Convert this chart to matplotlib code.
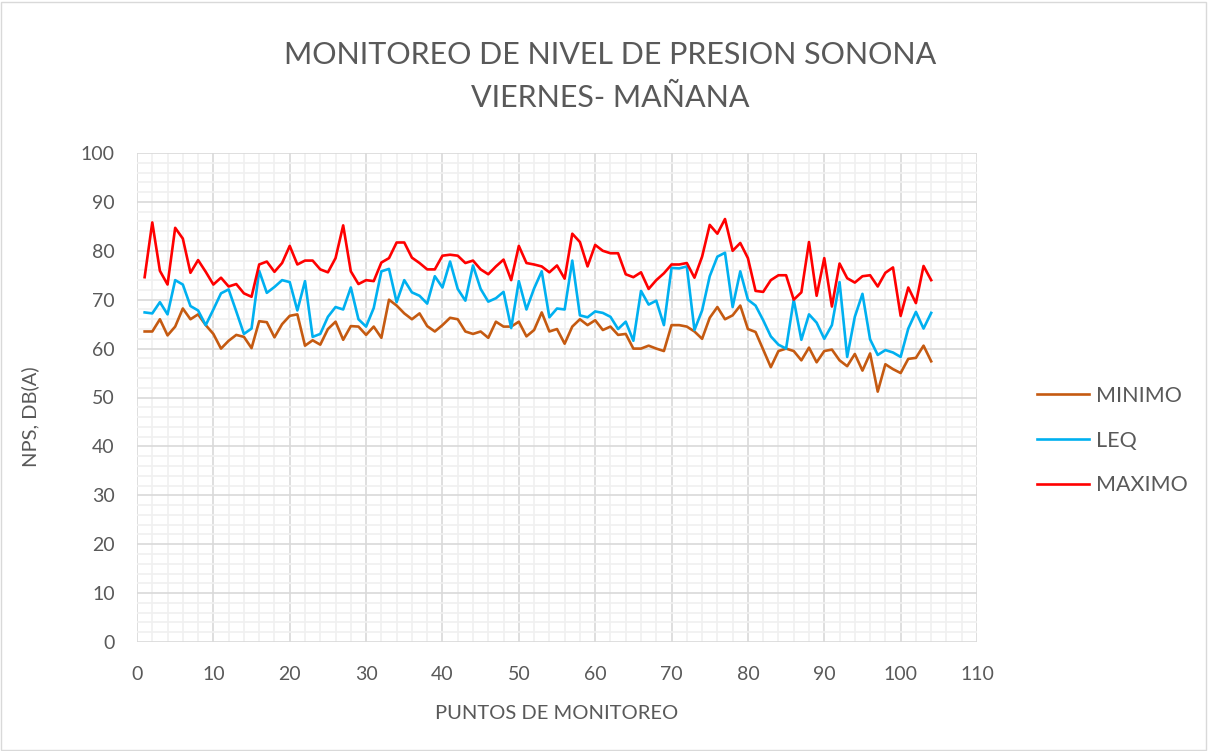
import numpy as np
import matplotlib.pyplot as plt
from matplotlib.ticker import MultipleLocator

plt.rcParams['font.family'] = ['Lato', 'DejaVu Sans']

puntos = list(range(1, 105))

minimo = [63.5, 63.5, 66, 62.7, 64.5, 68.2, 66, 67, 64.8, 63,
          60, 61.6, 62.8, 62.4, 60.1, 65.6, 65.4, 62.3, 65, 66.7,
          67, 60.6, 61.7, 60.8, 64, 65.5, 61.8, 64.6, 64.5, 62.8,
          64.5, 62.2, 70, 68.8, 67.2, 66, 67.2, 64.6, 63.5, 64.8,
          66.3, 66, 63.5, 63, 63.5, 62.2, 65.5, 64.5, 64.5, 65.5,
          62.5, 63.8, 67.4, 63.5, 64, 61, 64.5, 66, 64.8, 65.8,
          63.8, 64.5, 62.8, 63, 60, 60, 60.6, 60, 59.5, 64.8,
          64.8, 64.5, 63.5, 62, 66.3, 68.5, 66, 66.8, 68.8, 64,
          63.4, 59.8, 56.2, 59.5, 60, 59.5, 57.6, 60.2, 57.2, 59.5,
          59.8, 57.6, 56.4, 58.9, 55.5, 59, 51.2, 56.8, 55.8, 55,
          57.9, 58.1, 60.6, 57.4]

leq = [67.4, 67.2, 69.5, 67, 74, 73.1, 68.7, 67.8, 64.8, 68,
       71.3, 72.1, 67.6, 63, 64.1, 75.9, 71.4, 72.6, 74, 73.6,
       67.8, 73.8, 62.4, 63, 66.5, 68.5, 68, 72.5, 66, 64.5,
       68.3, 75.8, 76.3, 69.5, 74, 71.5, 70.8, 69.2, 74.8, 72.5,
       77.8, 72.2, 69.8, 77, 72.2, 69.6, 70.3, 71.6, 64.2, 73.8,
       68, 72.3, 75.8, 66.4, 68.2, 68, 78, 66.8, 66.4, 67.6,
       67.3, 66.5, 64, 65.5, 61.6, 71.8, 69, 69.8, 64.8, 76.5,
       76.4, 76.8, 63.8, 67.8, 74.8, 78.8, 79.6, 68.5, 75.8, 70,
       68.8, 65.8, 62.5, 60.8, 60, 70, 61.8, 67, 65.3, 62,
       64.8, 73.6, 58.3, 66.5, 71.2, 61.9, 58.7, 59.7, 59.2, 58.3,
       64.1, 67.5, 64.1, 67.3]

maximo = [74.6, 85.8, 75.9, 73.1, 84.7, 82.5, 75.5, 78.1, 75.7, 73.1,
          74.5, 72.7, 73.2, 71.3, 70.6, 77.2, 77.8, 75.7, 77.5, 81,
          77.2, 78, 78, 76.2, 75.6, 78.5, 85.2, 75.8, 73.2, 74,
          73.8, 77.6, 78.5, 81.7, 81.7, 78.6, 77.5, 76.2, 76.2, 79,
          79.2, 79, 77.5, 78, 76.2, 75.2, 76.8, 78.2, 74, 81,
          77.5, 77.2, 76.8, 75.6, 77, 74.3, 83.5, 81.8, 76.8, 81.2,
          80, 79.5, 79.5, 75.2, 74.6, 75.6, 72.2, 74, 75.4, 77.2,
          77.2, 77.5, 74.5, 78.8, 85.3, 83.5, 86.5, 80, 81.6, 78.5,
          71.8, 71.6, 74, 75, 75, 70, 71.5, 81.8, 70.8, 78.5,
          68.6, 77.4, 74.4, 73.5, 74.8, 75, 72.7, 75.5, 76.6, 66.7,
          72.5, 69.3, 76.9, 74]

series = [("MINIMO", minimo, "#C55A11"),
          ("LEQ", leq, "#00B0F0"),
          ("MAXIMO", maximo, "#FF0000")]

gris = '#595959'

fig = plt.figure(figsize=(12.08, 7.51), dpi=100)
ax = fig.add_axes([137 / 1208, 1 - 642 / 751, 840 / 1208, 489 / 751])

for name, vals, col in series:
    ax.plot(puntos, vals, color=col, lw=1.9, label=name)

ax.set_xlim(0, 110)
ax.set_ylim(0, 100)
ax.xaxis.set_major_locator(MultipleLocator(10))
ax.yaxis.set_major_locator(MultipleLocator(10))
ax.xaxis.set_minor_locator(MultipleLocator(2))
ax.yaxis.set_minor_locator(MultipleLocator(2))
ax.grid(which='minor', color='#f0f0f0', lw=1.2)
ax.grid(which='major', color='#d9d9d9', lw=1.2)
ax.set_axisbelow(True)
for s in ax.spines.values():
    s.set_visible(False)
ax.tick_params(which='both', length=0, labelsize=14, colors=gris)
ax.tick_params(axis='y', pad=16)
ax.tick_params(axis='x', pad=17)

ax.set_ylabel("NPS, DB(A)", fontsize=14.5, color=gris, va='center')
ax.yaxis.set_label_coords(-0.1274, 0.46)
ax.set_xlabel("PUNTOS DE MONITOREO", fontsize=14.5, color=gris, va='center')
ax.xaxis.set_label_coords(0.5, -0.1452)

fig.text(0.505, 1 - 76.5 / 751, "MONITOREO DE NIVEL DE PRESION SONONA\nVIERNES- MAÑANA",
         ha='center', va='center', fontsize=22, color=gris,
         linespacing=1.6)

fig.legend(*ax.get_legend_handles_labels(), loc='center left',
           bbox_to_anchor=(1037 / 1208, 1 - 440.7 / 751), frameon=False,
           borderpad=0, borderaxespad=0, fontsize=15.5, labelcolor=gris,
           handlelength=2.4, handletextpad=0.35, labelspacing=1.15)

fig.patches.append(plt.Rectangle((0.001, 0.001), 0.997, 0.997, transform=fig.transFigure,
                                 fill=False, edgecolor='#d9d9d9', lw=1))

fig.savefig("out.png", dpi=100)
